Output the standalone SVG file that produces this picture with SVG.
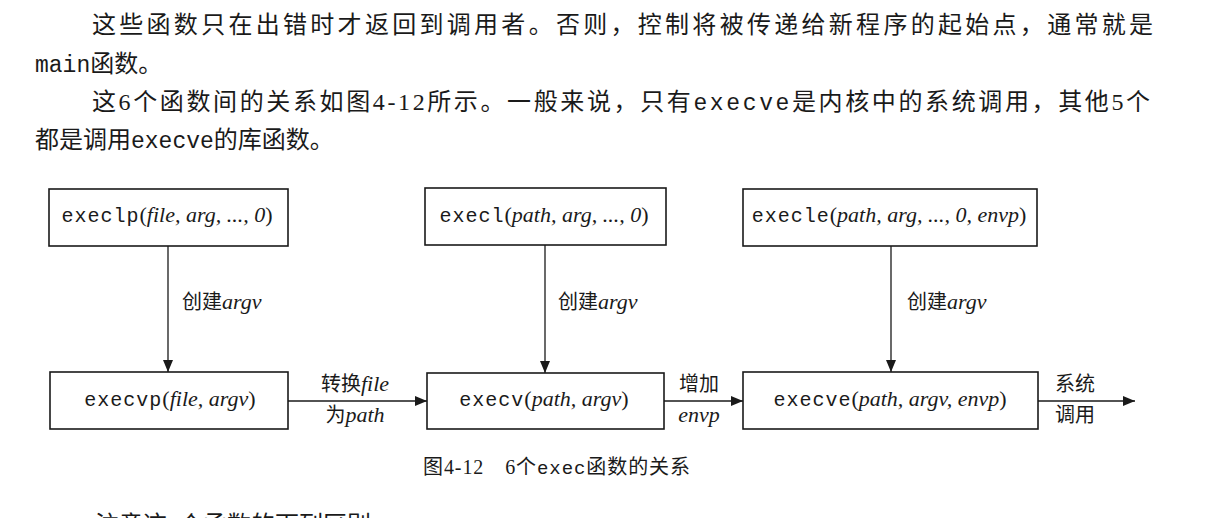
<svg xmlns="http://www.w3.org/2000/svg" width="1209" height="518" viewBox="0 0 1209 518">
<defs>
<style>
.bg{fill:#ffffff}
.para{font-family:"Liberation Serif","Noto Sans CJK SC",serif;font-size:24px;fill:#1a1a1a}
.pmono{font-family:"Liberation Mono","Noto Sans CJK SC",monospace;font-size:23px}
.box{fill:#ffffff;stroke:#1a1a1a;stroke-width:1.6}
.mono{font-family:"Liberation Mono",monospace;font-size:20px;letter-spacing:1px;fill:#1a1a1a}
.it{font-family:"Liberation Serif",serif;font-style:italic;font-size:22px;letter-spacing:0}
.up{font-family:"Liberation Serif",serif;font-style:normal;font-size:22px;letter-spacing:0}
.lbl{font-family:"Noto Sans CJK SC",sans-serif;font-size:20px;fill:#1a1a1a}
.lit{font-family:"Liberation Serif",serif;font-style:italic;font-size:22px}
.edge{stroke:#1a1a1a;stroke-width:1.3;fill:none}
.cap{font-family:"Liberation Serif","Noto Sans CJK SC",serif;font-size:20px;fill:#1a1a1a}
.cmono{font-family:"Liberation Mono",monospace;font-size:19px}
</style>
<marker id="ah" viewBox="0 0 12 10" refX="12" refY="5" markerWidth="12" markerHeight="10" markerUnits="userSpaceOnUse" orient="auto">
<path d="M0,0 L12,5 L0,10 z" fill="#1a1a1a"/>
</marker>
</defs>
<rect class="bg" x="0" y="0" width="1209" height="518"/>

<g id="paragraph">
<text class="para" x="92" y="33" textLength="1061" lengthAdjust="spacing">这些函数只在出错时才返回到调用者。否则，控制将被传递给新程序的起始点，通常就是</text>
<text class="para" x="35" y="72"><tspan class="pmono">main</tspan>函数。</text>
<text class="para" x="92" y="110" textLength="1058" lengthAdjust="spacing">这6个函数间的关系如图4-12所示。一般来说，只有<tspan class="pmono">execve</tspan>是内核中的系统调用，其他5个</text>
<text class="para" x="35" y="148">都是调用<tspan class="pmono">execve</tspan>的库函数。</text>
</g>

<g id="connectors">
<line class="edge" x1="168" y1="246" x2="168" y2="372" marker-end="url(#ah)"/>
<line class="edge" x1="545" y1="245" x2="545" y2="373" marker-end="url(#ah)"/>
<line class="edge" x1="891" y1="246" x2="891" y2="372" marker-end="url(#ah)"/>
<line class="edge" x1="288" y1="401" x2="427" y2="401" marker-end="url(#ah)"/>
<line class="edge" x1="664" y1="401" x2="743" y2="401" marker-end="url(#ah)"/>
<line class="edge" x1="1038" y1="401" x2="1135" y2="401" marker-end="url(#ah)"/>
<text class="lbl" x="182" y="309">创建<tspan class="lit">argv</tspan></text>
<text class="lbl" x="558" y="309">创建<tspan class="lit">argv</tspan></text>
<text class="lbl" x="907" y="309">创建<tspan class="lit">argv</tspan></text>
<text class="lbl" x="355" y="391" text-anchor="middle">转换<tspan class="lit">file</tspan></text>
<text class="lbl" x="355" y="422" text-anchor="middle">为<tspan class="lit">path</tspan></text>
<text class="lbl" x="699" y="391" text-anchor="middle">增加</text>
<text class="lbl" x="699" y="422" text-anchor="middle"><tspan class="lit">envp</tspan></text>
<text class="lbl" x="1075" y="391" text-anchor="middle">系统</text>
<text class="lbl" x="1075" y="422" text-anchor="middle">调用</text>
</g>

<g id="execlp">
<rect class="box" x="49" y="189" width="239" height="57"/>
<text class="mono" x="167" y="222" text-anchor="middle">execlp<tspan class="up">(</tspan><tspan class="it">file, arg, ..., 0</tspan><tspan class="up">)</tspan></text>
</g>
<g id="execl">
<rect class="box" x="425" y="188" width="241" height="57"/>
<text class="mono" x="544" y="222" text-anchor="middle">execl<tspan class="up">(</tspan><tspan class="it">path, arg, ..., 0</tspan><tspan class="up">)</tspan></text>
</g>
<g id="execle">
<rect class="box" x="743" y="189" width="294" height="57"/>
<text class="mono" x="889" y="222" text-anchor="middle">execle<tspan class="up">(</tspan><tspan class="it">path, arg, ..., 0, envp</tspan><tspan class="up">)</tspan></text>
</g>
<g id="execvp">
<rect class="box" x="50" y="372" width="238" height="57"/>
<text class="mono" x="170" y="406" text-anchor="middle">execvp<tspan class="up">(</tspan><tspan class="it">file, argv</tspan><tspan class="up">)</tspan></text>
</g>
<g id="execv">
<rect class="box" x="427" y="373" width="237" height="56"/>
<text class="mono" x="544" y="406" text-anchor="middle">execv<tspan class="up">(</tspan><tspan class="it">path, argv</tspan><tspan class="up">)</tspan></text>
</g>
<g id="execve">
<rect class="box" x="743" y="372" width="295" height="57"/>
<text class="mono" x="890" y="406" text-anchor="middle">execve<tspan class="up">(</tspan><tspan class="it">path, argv, envp</tspan><tspan class="up">)</tspan></text>
</g>

<g id="caption">
<text class="cap" x="423" y="474" textLength="267" lengthAdjust="spacing">图4-12　6个<tspan class="cmono">exec</tspan>函数的关系</text>
<text class="para" x="95" y="533">注意这6个函数的下列区别</text>
</g>
</svg>
